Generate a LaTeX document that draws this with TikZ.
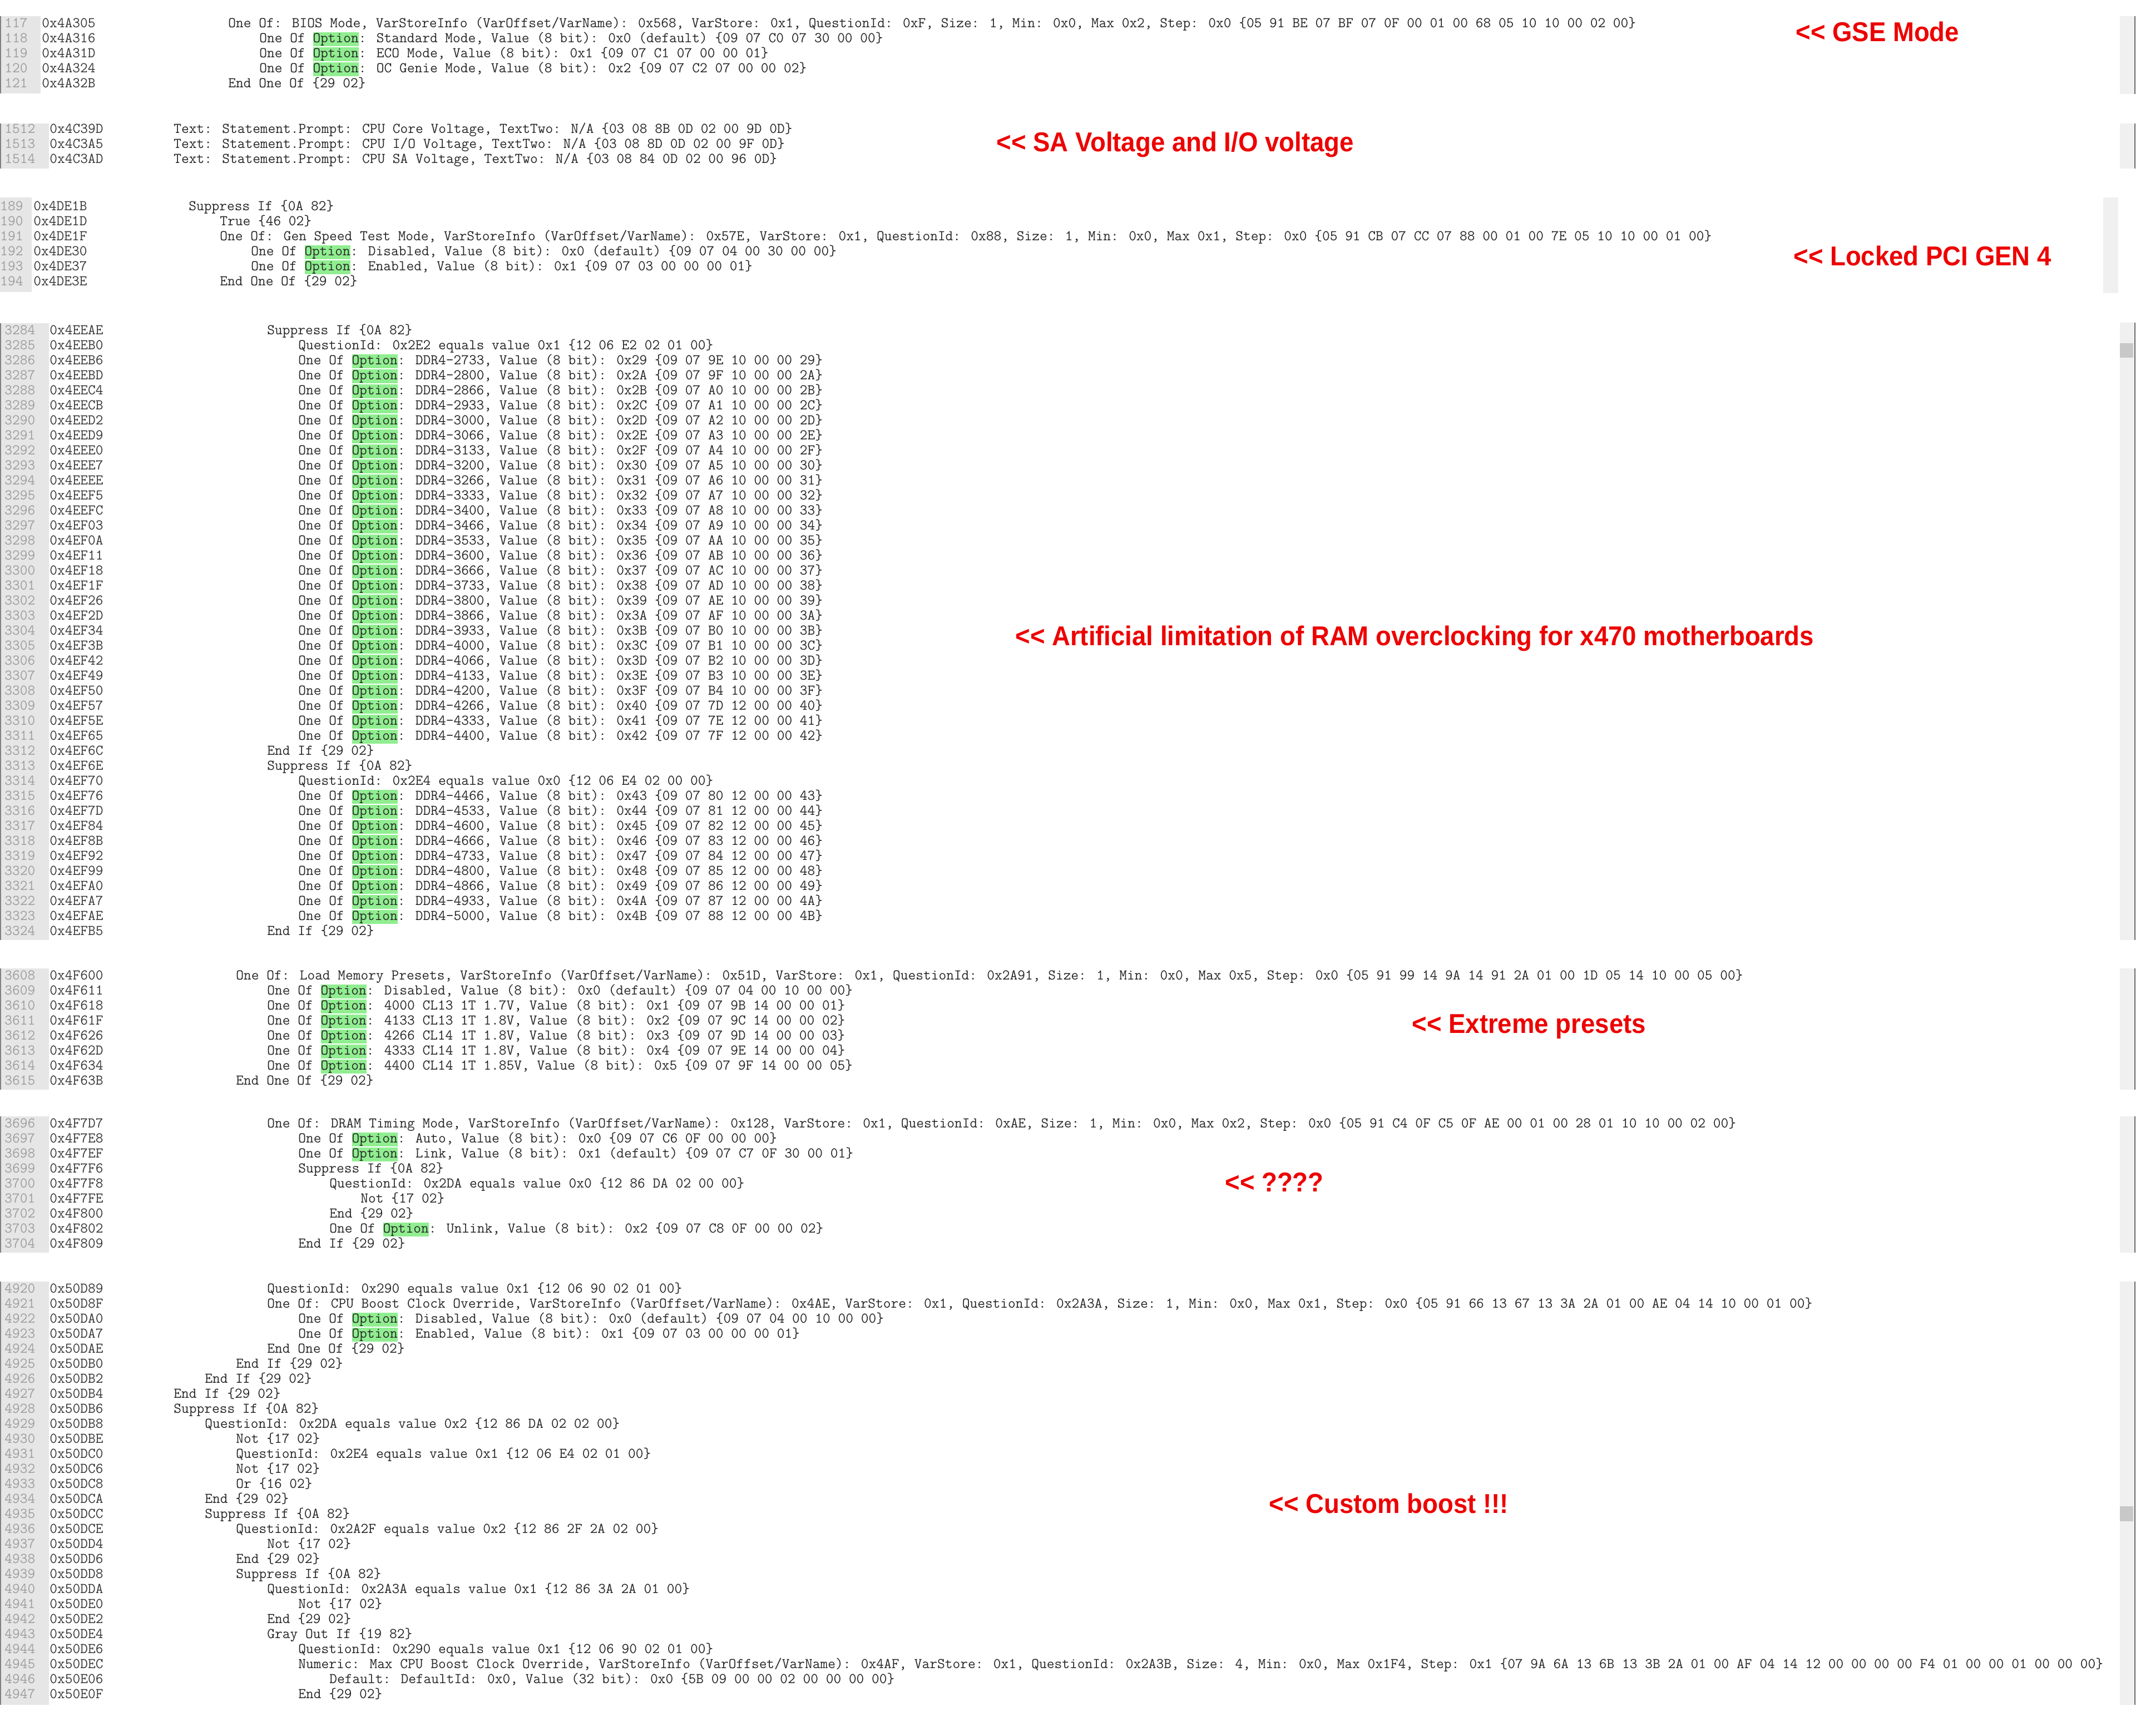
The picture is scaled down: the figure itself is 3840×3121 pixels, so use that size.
\documentclass[tikz,border=0pt]{standalone}
\usepackage{fontspec}
\usepackage{xcolor}
\usepackage{tikz}
\usetikzlibrary{positioning}

\newfontfamily\notefam{Liberation Sans}[FakeStretch=0.93]
\definecolor{notered}{RGB}{237,0,0}
\definecolor{optgreen}{RGB}{144,238,144}
\definecolor{gutterfill}{RGB}{230,230,230}
\definecolor{barfill}{RGB}{240,240,240}
\definecolor{thumbfill}{RGB}{200,200,200}
\setlength{\fboxsep}{0pt}
\newcommand{\codefont}{\ttfamily\fontsize{13.33pt}{16pt}\selectfont}
\newcommand{\notefont}{\notefam\bfseries\fontsize{24.5pt}{28pt}\selectfont}
\newcommand{\opt}{\colorbox{optgreen}{\vrule height 9.25pt depth 3.25pt width 0pt\relax Option}}

\tikzset{
  code/.style={anchor=base west, inner sep=0pt, font=\codefont, text=black!85},
  addr/.style={anchor=base west, inner sep=0pt, font=\codefont, text=black!78},
  linenum/.style={anchor=base west, inner sep=0pt, font=\codefont, text=black!38},
  note/.style={anchor=base west, inner sep=0pt, font=\notefont, text=notered},
  gutter/.style={fill=gutterfill},
  gutterline/.style={draw=black!50, line width=1pt},
  scrollbar/.style={fill=barfill},
  barline/.style={draw=black!55, line width=1pt},
  thumb/.style={fill=thumbfill}
}

% one listing line: number, address, indent level, text
\newcommand{\srcline}[4]{%
  \node[linenum] (ln#1) at (\numx,\cury) {#1};
  \node[addr] (ad#1) at (\addrx,\cury) {#2};
  \node[code] (tx#1) at ({\addrx+223+56*#3},\cury) {#4};
  \pgfmathparse{\cury+27}\xdef\cury{\pgfmathresult}%
}

\begin{document}
\begin{tikzpicture}[x=0.5pt, y=-0.5pt]
    \useasboundingbox[fill=white] (0,0) rectangle (3840,3121);

    % Gutters and scroll bars
    \fill[gutter] (0,29) rectangle (73,168);
    \fill[gutter] (0,222) rectangle (88,303);
    \fill[gutter] (0,355) rectangle (57,525);
    \fill[gutter] (0,581) rectangle (88,1690);
    \fill[gutter] (0,1741) rectangle (88,1959);
    \fill[gutter] (0,2007) rectangle (88,2252);
    \fill[gutter] (0,2304) rectangle (88,3065);
    \draw[gutterline] (1,29) -- (1,168);
    \draw[gutterline] (1,222) -- (1,303);
    \draw[gutterline] (1,581) -- (1,1690);
    \draw[gutterline] (1,1741) -- (1,1959);
    \draw[gutterline] (1,2007) -- (1,2252);
    \draw[gutterline] (1,2304) -- (1,3065);

    \fill[scrollbar] (3811,29) rectangle (3840,169);
    \fill[scrollbar] (3811,222) rectangle (3840,303);
    \fill[scrollbar] (3781,355) rectangle (3808,527);
    \fill[scrollbar] (3811,580) rectangle (3840,1690);
    \fill[scrollbar] (3811,1741) rectangle (3840,1959);
    \fill[scrollbar] (3811,2007) rectangle (3840,2252);
    \fill[scrollbar] (3811,2304) rectangle (3840,3065);
    \draw[barline] (3838,29) -- (3838,169);
    \draw[barline] (3838,222) -- (3838,303);
    \draw[barline] (3838,580) -- (3838,1690);
    \draw[barline] (3838,1741) -- (3838,1959);
    \draw[barline] (3838,2007) -- (3838,2252);
    \draw[barline] (3838,2304) -- (3838,3065);
    \fill[thumb] (3811,617) rectangle (3835,643);
    \fill[thumb] (3811,2708) rectangle (3835,2735);

    % BIOS mode
    \def\numx{8}\def\addrx{75}\xdef\cury{49}
    \srcline{117}{0x4A305}{2}{One Of: BIOS Mode, VarStoreInfo (VarOffset/VarName): 0x568, VarStore: 0x1, QuestionId: 0xF, Size: 1, Min: 0x0, Max 0x2, Step: 0x0 \{05 91 BE 07 BF 07 0F 00 01 00 68 05 10 10 00 02 00\}}
    \srcline{118}{0x4A316}{3}{One Of \opt: Standard Mode, Value (8 bit): 0x0 (default) \{09 07 C0 07 30 00 00\}}
    \srcline{119}{0x4A31D}{3}{One Of \opt: ECO Mode, Value (8 bit): 0x1 \{09 07 C1 07 00 00 01\}}
    \srcline{120}{0x4A324}{3}{One Of \opt: OC Genie Mode, Value (8 bit): 0x2 \{09 07 C2 07 00 00 02\}}
    \srcline{121}{0x4A32B}{2}{End One Of \{29 02\}}

    % Voltages
    \def\numx{8}\def\addrx{89}\xdef\cury{239}
    \srcline{1512}{0x4C39D}{0}{Text: Statement.Prompt: CPU Core Voltage, TextTwo: N/A \{03 08 8B 0D 02 00 9D 0D\}}
    \srcline{1513}{0x4C3A5}{0}{Text: Statement.Prompt: CPU I/O Voltage, TextTwo: N/A \{03 08 8D 0D 02 00 9F 0D\}}
    \srcline{1514}{0x4C3AD}{0}{Text: Statement.Prompt: CPU SA Voltage, TextTwo: N/A \{03 08 84 0D 02 00 96 0D\}}

    % Gen speed
    \def\numx{0}\def\addrx{60}\xdef\cury{378}
    \srcline{189}{0x4DE1B}{1}{Suppress If \{0A 82\}}
    \srcline{190}{0x4DE1D}{2}{True \{46 02\}}
    \srcline{191}{0x4DE1F}{2}{One Of: Gen Speed Test Mode, VarStoreInfo (VarOffset/VarName): 0x57E, VarStore: 0x1, QuestionId: 0x88, Size: 1, Min: 0x0, Max 0x1, Step: 0x0 \{05 91 CB 07 CC 07 88 00 01 00 7E 05 10 10 00 01 00\}}
    \srcline{192}{0x4DE30}{3}{One Of \opt: Disabled, Value (8 bit): 0x0 (default) \{09 07 04 00 30 00 00\}}
    \srcline{193}{0x4DE37}{3}{One Of \opt: Enabled, Value (8 bit): 0x1 \{09 07 03 00 00 00 01\}}
    \srcline{194}{0x4DE3E}{2}{End One Of \{29 02\}}

    % Memory frequencies
    \def\numx{8}\def\addrx{89}\xdef\cury{601}
    \srcline{3284}{0x4EEAE}{3}{Suppress If \{0A 82\}}
    \srcline{3285}{0x4EEB0}{4}{QuestionId: 0x2E2 equals value 0x1 \{12 06 E2 02 01 00\}}
    \foreach \nn/\ad/\mh/\vv/\ba/\bb in {3286/0x4EEB6/2733/29/9E/10, 3287/0x4EEBD/2800/2A/9F/10,
        3288/0x4EEC4/2866/2B/A0/10, 3289/0x4EECB/2933/2C/A1/10, 3290/0x4EED2/3000/2D/A2/10,
        3291/0x4EED9/3066/2E/A3/10, 3292/0x4EEE0/3133/2F/A4/10, 3293/0x4EEE7/3200/30/A5/10,
        3294/0x4EEEE/3266/31/A6/10, 3295/0x4EEF5/3333/32/A7/10, 3296/0x4EEFC/3400/33/A8/10,
        3297/0x4EF03/3466/34/A9/10, 3298/0x4EF0A/3533/35/AA/10, 3299/0x4EF11/3600/36/AB/10,
        3300/0x4EF18/3666/37/AC/10, 3301/0x4EF1F/3733/38/AD/10, 3302/0x4EF26/3800/39/AE/10,
        3303/0x4EF2D/3866/3A/AF/10, 3304/0x4EF34/3933/3B/B0/10, 3305/0x4EF3B/4000/3C/B1/10,
        3306/0x4EF42/4066/3D/B2/10, 3307/0x4EF49/4133/3E/B3/10, 3308/0x4EF50/4200/3F/B4/10,
        3309/0x4EF57/4266/40/7D/12, 3310/0x4EF5E/4333/41/7E/12, 3311/0x4EF65/4400/42/7F/12}
      {\srcline{\nn}{\ad}{4}{One Of \opt: DDR4-\mh, Value (8 bit): 0x\vv{} \{09 07 \ba{} \bb{} 00 00 \vv\}}}
    \srcline{3312}{0x4EF6C}{3}{End If \{29 02\}}
    \srcline{3313}{0x4EF6E}{3}{Suppress If \{0A 82\}}
    \srcline{3314}{0x4EF70}{4}{QuestionId: 0x2E4 equals value 0x0 \{12 06 E4 02 00 00\}}
    \foreach \nn/\ad/\mh/\vv/\ba/\bb in {3315/0x4EF76/4466/43/80/12, 3316/0x4EF7D/4533/44/81/12,
        3317/0x4EF84/4600/45/82/12, 3318/0x4EF8B/4666/46/83/12, 3319/0x4EF92/4733/47/84/12,
        3320/0x4EF99/4800/48/85/12, 3321/0x4EFA0/4866/49/86/12, 3322/0x4EFA7/4933/4A/87/12,
        3323/0x4EFAE/5000/4B/88/12}
      {\srcline{\nn}{\ad}{4}{One Of \opt: DDR4-\mh, Value (8 bit): 0x\vv{} \{09 07 \ba{} \bb{} 00 00 \vv\}}}
    \srcline{3324}{0x4EFB5}{3}{End If \{29 02\}}

    % Memory presets
    \def\numx{8}\def\addrx{89}\xdef\cury{1761}
    \srcline{3608}{0x4F600}{2}{One Of: Load Memory Presets, VarStoreInfo (VarOffset/VarName): 0x51D, VarStore: 0x1, QuestionId: 0x2A91, Size: 1, Min: 0x0, Max 0x5, Step: 0x0 \{05 91 99 14 9A 14 91 2A 01 00 1D 05 14 10 00 05 00\}}
    \srcline{3609}{0x4F611}{3}{One Of \opt: Disabled, Value (8 bit): 0x0 (default) \{09 07 04 00 10 00 00\}}
    \srcline{3610}{0x4F618}{3}{One Of \opt: 4000 CL13 1T 1.7V, Value (8 bit): 0x1 \{09 07 9B 14 00 00 01\}}
    \srcline{3611}{0x4F61F}{3}{One Of \opt: 4133 CL13 1T 1.8V, Value (8 bit): 0x2 \{09 07 9C 14 00 00 02\}}
    \srcline{3612}{0x4F626}{3}{One Of \opt: 4266 CL14 1T 1.8V, Value (8 bit): 0x3 \{09 07 9D 14 00 00 03\}}
    \srcline{3613}{0x4F62D}{3}{One Of \opt: 4333 CL14 1T 1.8V, Value (8 bit): 0x4 \{09 07 9E 14 00 00 04\}}
    \srcline{3614}{0x4F634}{3}{One Of \opt: 4400 CL14 1T 1.85V, Value (8 bit): 0x5 \{09 07 9F 14 00 00 05\}}
    \srcline{3615}{0x4F63B}{2}{End One Of \{29 02\}}

    % DRAM timing
    \def\numx{8}\def\addrx{89}\xdef\cury{2027}
    \srcline{3696}{0x4F7D7}{3}{One Of: DRAM Timing Mode, VarStoreInfo (VarOffset/VarName): 0x128, VarStore: 0x1, QuestionId: 0xAE, Size: 1, Min: 0x0, Max 0x2, Step: 0x0 \{05 91 C4 0F C5 0F AE 00 01 00 28 01 10 10 00 02 00\}}
    \srcline{3697}{0x4F7E8}{4}{One Of \opt: Auto, Value (8 bit): 0x0 \{09 07 C6 0F 00 00 00\}}
    \srcline{3698}{0x4F7EF}{4}{One Of \opt: Link, Value (8 bit): 0x1 (default) \{09 07 C7 0F 30 00 01\}}
    \srcline{3699}{0x4F7F6}{4}{Suppress If \{0A 82\}}
    \srcline{3700}{0x4F7F8}{5}{QuestionId: 0x2DA equals value 0x0 \{12 86 DA 02 00 00\}}
    \srcline{3701}{0x4F7FE}{6}{Not \{17 02\}}
    \srcline{3702}{0x4F800}{5}{End \{29 02\}}
    \srcline{3703}{0x4F802}{5}{One Of \opt: Unlink, Value (8 bit): 0x2 \{09 07 C8 0F 00 00 02\}}
    \srcline{3704}{0x4F809}{4}{End If \{29 02\}}

    % CPU boost clock
    \def\numx{8}\def\addrx{89}\xdef\cury{2324}
    \srcline{4920}{0x50D89}{3}{QuestionId: 0x290 equals value 0x1 \{12 06 90 02 01 00\}}
    \srcline{4921}{0x50D8F}{3}{One Of: CPU Boost Clock Override, VarStoreInfo (VarOffset/VarName): 0x4AE, VarStore: 0x1, QuestionId: 0x2A3A, Size: 1, Min: 0x0, Max 0x1, Step: 0x0 \{05 91 66 13 67 13 3A 2A 01 00 AE 04 14 10 00 01 00\}}
    \srcline{4922}{0x50DA0}{4}{One Of \opt: Disabled, Value (8 bit): 0x0 (default) \{09 07 04 00 10 00 00\}}
    \srcline{4923}{0x50DA7}{4}{One Of \opt: Enabled, Value (8 bit): 0x1 \{09 07 03 00 00 00 01\}}
    \srcline{4924}{0x50DAE}{3}{End One Of \{29 02\}}
    \srcline{4925}{0x50DB0}{2}{End If \{29 02\}}
    \srcline{4926}{0x50DB2}{1}{End If \{29 02\}}
    \srcline{4927}{0x50DB4}{0}{End If \{29 02\}}
    \srcline{4928}{0x50DB6}{0}{Suppress If \{0A 82\}}
    \srcline{4929}{0x50DB8}{1}{QuestionId: 0x2DA equals value 0x2 \{12 86 DA 02 02 00\}}
    \srcline{4930}{0x50DBE}{2}{Not \{17 02\}}
    \srcline{4931}{0x50DC0}{2}{QuestionId: 0x2E4 equals value 0x1 \{12 06 E4 02 01 00\}}
    \srcline{4932}{0x50DC6}{2}{Not \{17 02\}}
    \srcline{4933}{0x50DC8}{2}{Or \{16 02\}}
    \srcline{4934}{0x50DCA}{1}{End \{29 02\}}
    \srcline{4935}{0x50DCC}{1}{Suppress If \{0A 82\}}
    \srcline{4936}{0x50DCE}{2}{QuestionId: 0x2A2F equals value 0x2 \{12 86 2F 2A 02 00\}}
    \srcline{4937}{0x50DD4}{3}{Not \{17 02\}}
    \srcline{4938}{0x50DD6}{2}{End \{29 02\}}
    \srcline{4939}{0x50DD8}{2}{Suppress If \{0A 82\}}
    \srcline{4940}{0x50DDA}{3}{QuestionId: 0x2A3A equals value 0x1 \{12 86 3A 2A 01 00\}}
    \srcline{4941}{0x50DE0}{4}{Not \{17 02\}}
    \srcline{4942}{0x50DE2}{3}{End \{29 02\}}
    \srcline{4943}{0x50DE4}{3}{Gray Out If \{19 82\}}
    \srcline{4944}{0x50DE6}{4}{QuestionId: 0x290 equals value 0x1 \{12 06 90 02 01 00\}}
    \srcline{4945}{0x50DEC}{4}{Numeric: Max CPU Boost Clock Override, VarStoreInfo (VarOffset/VarName): 0x4AF, VarStore: 0x1, QuestionId: 0x2A3B, Size: 4, Min: 0x0, Max 0x1F4, Step: 0x1 \{07 9A 6A 13 6B 13 3B 2A 01 00 AF 04 14 12 00 00 00 00 F4 01 00 00 01 00 00 00\}}
    \srcline{4946}{0x50E06}{5}{Default: DefaultId: 0x0, Value (32 bit): 0x0 \{5B 09 00 00 02 00 00 00 00\}}
    \srcline{4947}{0x50E0F}{4}{End \{29 02\}}

    % Red notes
    \node[note] (gse) at (3228,74) {<\kern0pt< GSE Mode};
    \node[note] (savolt) at (1791,272) {<\kern0pt< SA Voltage and I/O voltage};
    \node[note] (pcigen) at (3224,477) {<\kern0pt< Locked PCI GEN 4};
    \node[note] (ramlimit) at (1825,1160) {<\kern0pt< Artificial limitation of RAM overclocking for x470 motherboards};
    \node[note] (xpresets) at (2538,1857) {<\kern0pt< Extreme presets};
    \node[note] (dramq) at (2202,2142) {<\kern0pt< ????};
    \node[note] (cboost) at (2281,2720) {<\kern0pt< Custom boost !!!};
\end{tikzpicture}
\end{document}
